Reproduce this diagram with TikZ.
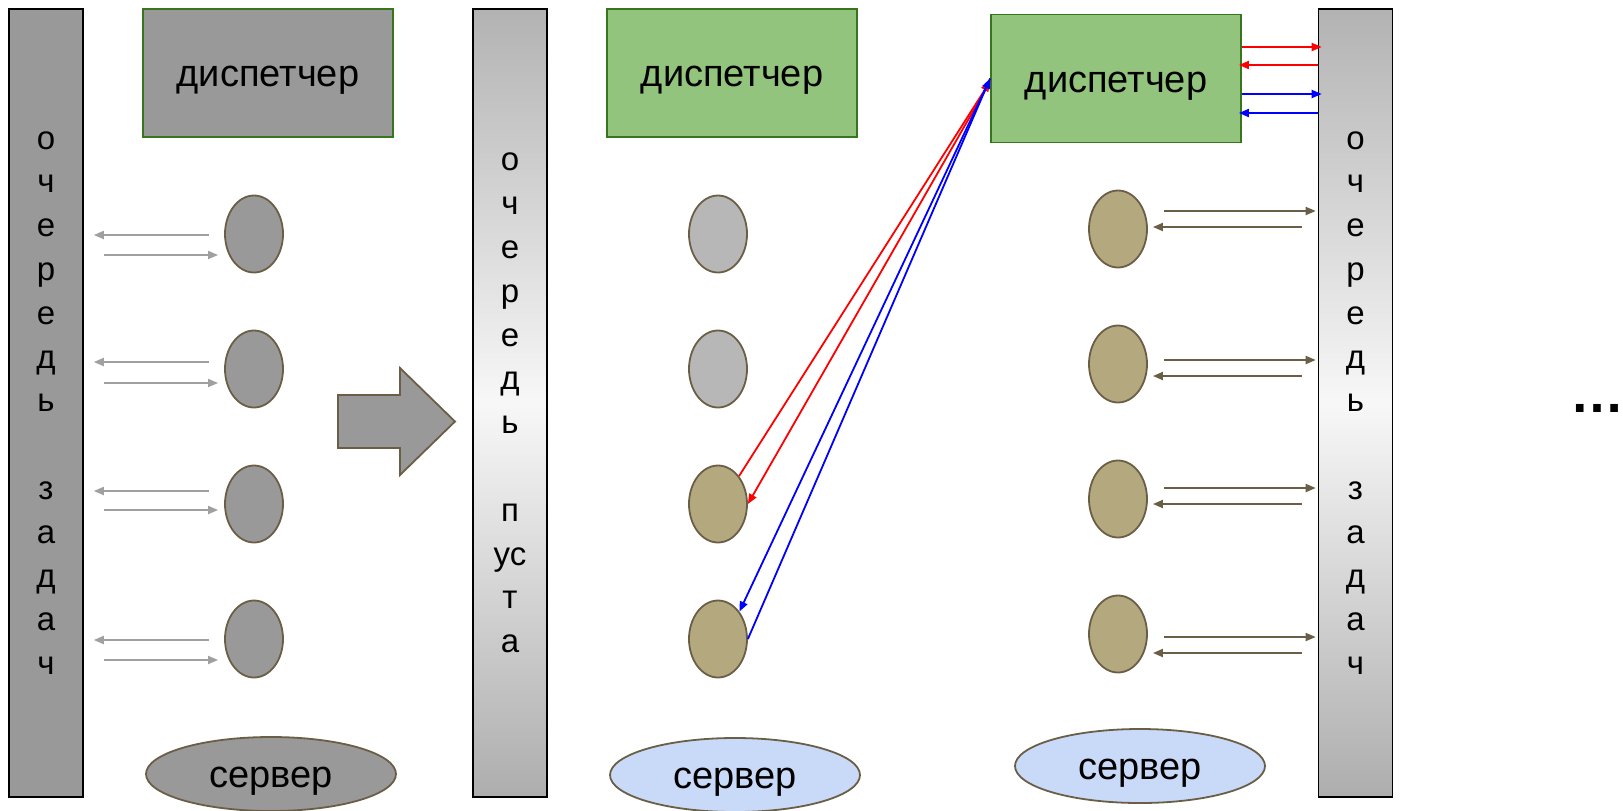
\documentclass[tikz,border=0pt]{standalone}
\usepackage{fontspec}
\setmainfont{Liberation Sans}
\usetikzlibrary{shapes.geometric,arrows.meta}

\definecolor{grayfill}{HTML}{999999}
\definecolor{lightfill}{HTML}{B7B7B7}
\definecolor{khaki}{HTML}{B4A87F}
\definecolor{brownline}{HTML}{6B5E46}
\definecolor{greenfill}{HTML}{93C47D}
\definecolor{greenline}{HTML}{38761D}
\definecolor{bluefill}{HTML}{C9DAF8}
\definecolor{grayarrow}{HTML}{A0A0A0}

\begin{document}
\begin{tikzpicture}[x=0.5pt,y=-0.5pt,>={Triangle[length=5pt,width=4pt]},
    bar/.style={draw=black,line width=0.8pt,minimum width=37pt,minimum height=394pt,inner sep=0pt,align=center,font=\fontsize{16.5}{21.9}\selectfont},
    emptybar/.style={bar,top color=black!30,bottom color=black!32,middle color=white!97!black},
    disp/.style={draw=greenline,line width=0.9pt,minimum width=125pt,minimum height=64pt,text height=18pt,text depth=4.2pt,font=\fontsize{19}{23}\selectfont},
    proc/.style={ellipse,draw=brownline,line width=0.9pt,minimum width=29pt,minimum height=38.5pt,inner sep=0pt},
    srv/.style={ellipse,draw=brownline,line width=0.9pt,minimum width=125pt,minimum height=37pt,inner sep=0pt,text height=18pt,text depth=4.2pt,font=\fontsize{19}{23}\selectfont},
    garrow/.style={->,draw=grayarrow,line width=0.9pt},
    brarrow/.style={->,draw=brownline,line width=0.9pt},
    link/.style={->,line width=0.9pt}]
  \useasboundingbox (0,0) rectangle (1623,810);

  % queues
  \node[bar,fill=grayfill] (q1) at (46,403) {о\\ч\\е\\р\\е\\д\\ь\\~\\з\\а\\д\\а\\ч};
  \node[emptybar] (q2) at (510,403) {о\\ч\\е\\р\\е\\д\\ь\\~\\п\\ус\\т\\а};
  \node[emptybar] (q3) at (1355.5,403) {о\\ч\\е\\р\\е\\д\\ь\\~\\з\\а\\д\\а\\ч};

  % dispatchers
  \node[disp,fill=grayfill] (d1) at (268,73) {диспетчер};
  \node[disp,fill=greenfill] (d2) at (732,73) {диспетчер};
  \node[disp,fill=greenfill] (d3) at (1116,78.5) {диспетчер};

  % workers
  \foreach \i/\y in {1/234,2/369,3/504,4/639}
    \node[proc,fill=grayfill] (a\i) at (254,\y) {};
  \node[proc,fill=lightfill] (b1) at (718,234) {};
  \node[proc,fill=lightfill] (b2) at (718,369) {};
  \node[proc,fill=khaki] (b3) at (718,504) {};
  \node[proc,fill=khaki] (b4) at (718,639) {};
  \foreach \i/\y in {1/229,2/364,3/499,4/634}
    \node[proc,fill=khaki] (c\i) at (1118,\y) {};

  % servers
  \node[srv,fill=grayfill] (s1) at (271,774) {сервер};
  \node[srv,fill=bluefill] (s2) at (735,775) {сервер};
  \node[srv,fill=bluefill] (s3) at (1140,766) {сервер};

  % transition
  \draw[draw=brownline,fill=grayfill,line width=0.9pt] (338,395) -- (400,395) -- (400,368) -- (455,421.5)
    -- (400,475) -- (400,448) -- (338,448) -- cycle;

  % first state
  \foreach \i/\u/\v in {1/-0.5/-10.5,2/3.5/-7,3/6.5/-3,4/-0.5/-10.5} {
    \draw[garrow,shorten <=7.5pt,shorten >=5pt] ([yshift=\u pt]a\i.west) -- ([yshift=\u pt]a\i.west -| q1.east);
    \draw[garrow,shorten <=10pt,shorten >=3pt] ([yshift=\v pt]a\i.west -| q1.east) -- ([yshift=\v pt]a\i.west);
  }

  % queue empty
  \draw[link,red] (b3.53) -- ([yshift=-1.5pt]d3.west);
  \draw[link,red] ([yshift=-1.5pt]d3.west) -- (b3.east);
  \draw[link,blue] (d3.west) -- (b4.52);
  \draw[link,blue] (b4.east) -- (d3.west);

  \draw[link,red,shorten >=-2pt] ([yshift=15.75pt]d3.east) -- ([yshift=15.75pt]d3.east -| q3.west);
  \draw[link,red,shorten >=-1.5pt] ([yshift=6.75pt]d3.east -| q3.west) -- ([yshift=6.75pt]d3.east);
  \draw[link,blue,shorten >=-2pt] ([yshift=-7.75pt]d3.east) -- ([yshift=-7.75pt]d3.east -| q3.west);
  \draw[link,blue,shorten >=-1.5pt] ([yshift=-17.25pt]d3.east -| q3.west) -- ([yshift=-17.25pt]d3.east);

  % queue refilled
  \foreach \i/\u/\v in {1/9/1,2/2/-6,3/5.5/-2.5,4/-1.5/-9.5} {
    \draw[brarrow,shorten <=8pt,shorten >=1pt] ([yshift=\u pt]c\i.east) -- ([yshift=\u pt]c\i.east -| q3.west);
    \draw[brarrow,shorten <=8pt,shorten >=2.5pt] ([yshift=\v pt]c\i.east -| q3.west) -- ([yshift=\v pt]c\i.east);
  }

  \node[font=\fontsize{27}{30}\selectfont\bfseries,anchor=base] (more) at (1597,412) {…};
\end{tikzpicture}
\end{document}
